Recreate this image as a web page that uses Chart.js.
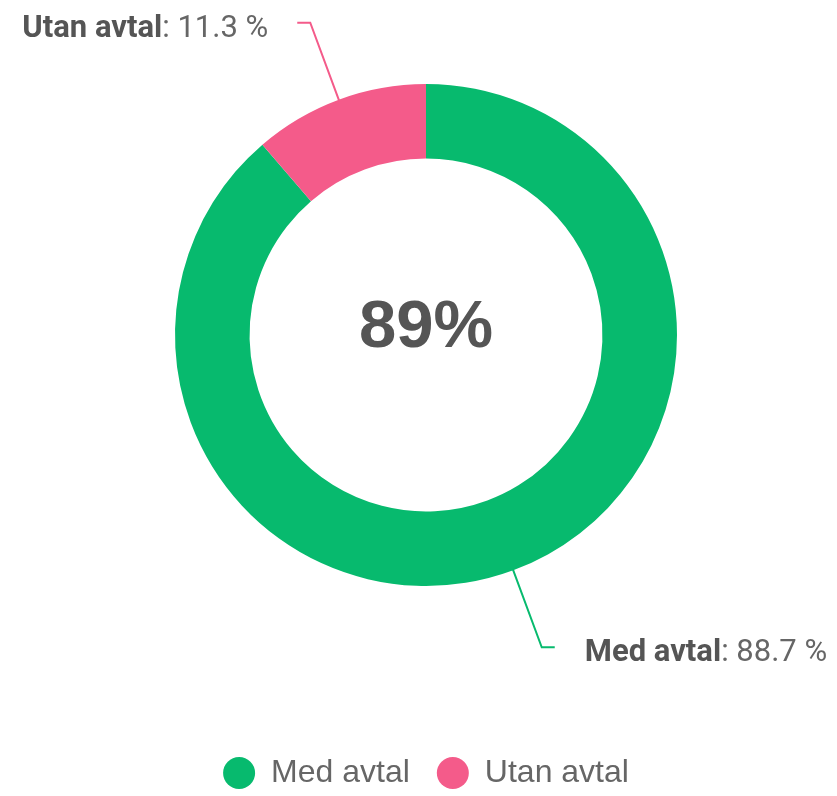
<!DOCTYPE html>
<html>
<head>
<meta charset="utf-8">
<script src="https://cdn.jsdelivr.net/npm/chart.js@4.4.0/dist/chart.umd.min.js"></script>
<style>
  html, body { margin: 0; padding: 0; background: #ffffff; }
  #wrap { width: 837px; height: 796px; }
</style>
</head>
<body>
<div id="wrap"><canvas id="c" width="837" height="796"></canvas></div>
<script>
const categories = ['Med avtal', 'Utan avtal'];
const values = [88.7, 11.3];
const sliceColors = ['#07BA6E', '#F45B8A'];
const centerText = '89%';

const labelFontFamily = 'Roboto, "Liberation Sans", Arial, sans-serif';

const leaderPlugin = {
  id: 'leaderLabels',
  afterDatasetsDraw(chart) {
    const ctx = chart.ctx;
    const meta = chart.getDatasetMeta(0);
    const ds = chart.data.datasets[0];
    ctx.save();
    meta.data.forEach((arc, i) => {
      const p = arc.getProps(['x', 'y', 'startAngle', 'endAngle', 'outerRadius'], true);
      const mid = (p.startAngle + p.endAngle) / 2;
      const cos = Math.cos(mid), sin = Math.sin(mid);
      const r0 = p.outerRadius - 1;
      const r1 = p.outerRadius + 82;
      const x0 = p.x + r0 * cos, y0 = p.y + r0 * sin;
      const x1 = p.x + r1 * cos, y1 = p.y + r1 * sin;
      const dir = cos >= 0 ? 1 : -1;
      const x2 = x1 + dir * 13;
      ctx.strokeStyle = ds.backgroundColor[i];
      ctx.lineWidth = 2;
      ctx.beginPath();
      ctx.moveTo(x0, y0);
      ctx.lineTo(x1, y1);
      ctx.lineTo(x2, y1);
      ctx.stroke();

      const name = chart.data.labels[i];
      const rest = ': ' + ds.data[i].toFixed(1) + ' %';
      const boldFont = 'bold 31px ' + labelFontFamily;
      const normFont = '31px ' + labelFontFamily;
      ctx.font = boldFont;
      const wName = ctx.measureText(name).width;
      ctx.font = normFont;
      const wRest = ctx.measureText(rest).width;
      const total = wName + wRest;
      const startX = dir > 0 ? x2 + 30 : x2 - 29 - total;
      const baseY = y1 + 14;
      ctx.textAlign = 'left';
      ctx.textBaseline = 'alphabetic';
      ctx.fillStyle = '#555555';
      ctx.font = boldFont;
      ctx.fillText(name, startX, baseY);
      ctx.fillStyle = '#666666';
      ctx.font = normFont;
      ctx.fillText(rest, startX + wName, baseY);
    });

    const a = meta.data[0];
    ctx.fillStyle = '#555555';
    ctx.font = 'bold 67px "Liberation Sans", Arial, sans-serif';
    ctx.textAlign = 'center';
    ctx.textBaseline = 'alphabetic';
    ctx.fillText(centerText, a.x, a.y + 12);
    ctx.restore();
  }
};

new Chart(document.getElementById('c'), {
  type: 'doughnut',
  data: {
    labels: categories,
    datasets: [{
      data: values,
      backgroundColor: sliceColors,
      hoverBackgroundColor: sliceColors,
      borderWidth: 0,
      hoverBorderWidth: 0,
      hoverOffset: 0,
      offset: 0
    }]
  },
  options: {
    responsive: false,
    animation: false,
    devicePixelRatio: 1,
    cutout: '70.3%',
    layout: { padding: { top: 84, left: 15, right: 0, bottom: -3 } },
    events: [],
    plugins: {
      tooltip: { enabled: false },
      legend: {
        display: true,
        position: 'bottom',
        align: 'center',
        title: {
          display: true,
          text: ' ',
          color: '#ffffff',
          font: { size: 1 },
          padding: { top: 0, bottom: 142.8 }
        },
        labels: {
          usePointStyle: true,
          pointStyle: 'circle',
          pointStyleWidth: 32,
          boxWidth: 32,
          boxHeight: 22.6,
          padding: 27,
          color: '#666666',
          font: { size: 32, family: '"Liberation Sans", Arial, sans-serif' }
        }
      }
    }
  },
  plugins: [leaderPlugin]
});
</script>
</body>
</html>
